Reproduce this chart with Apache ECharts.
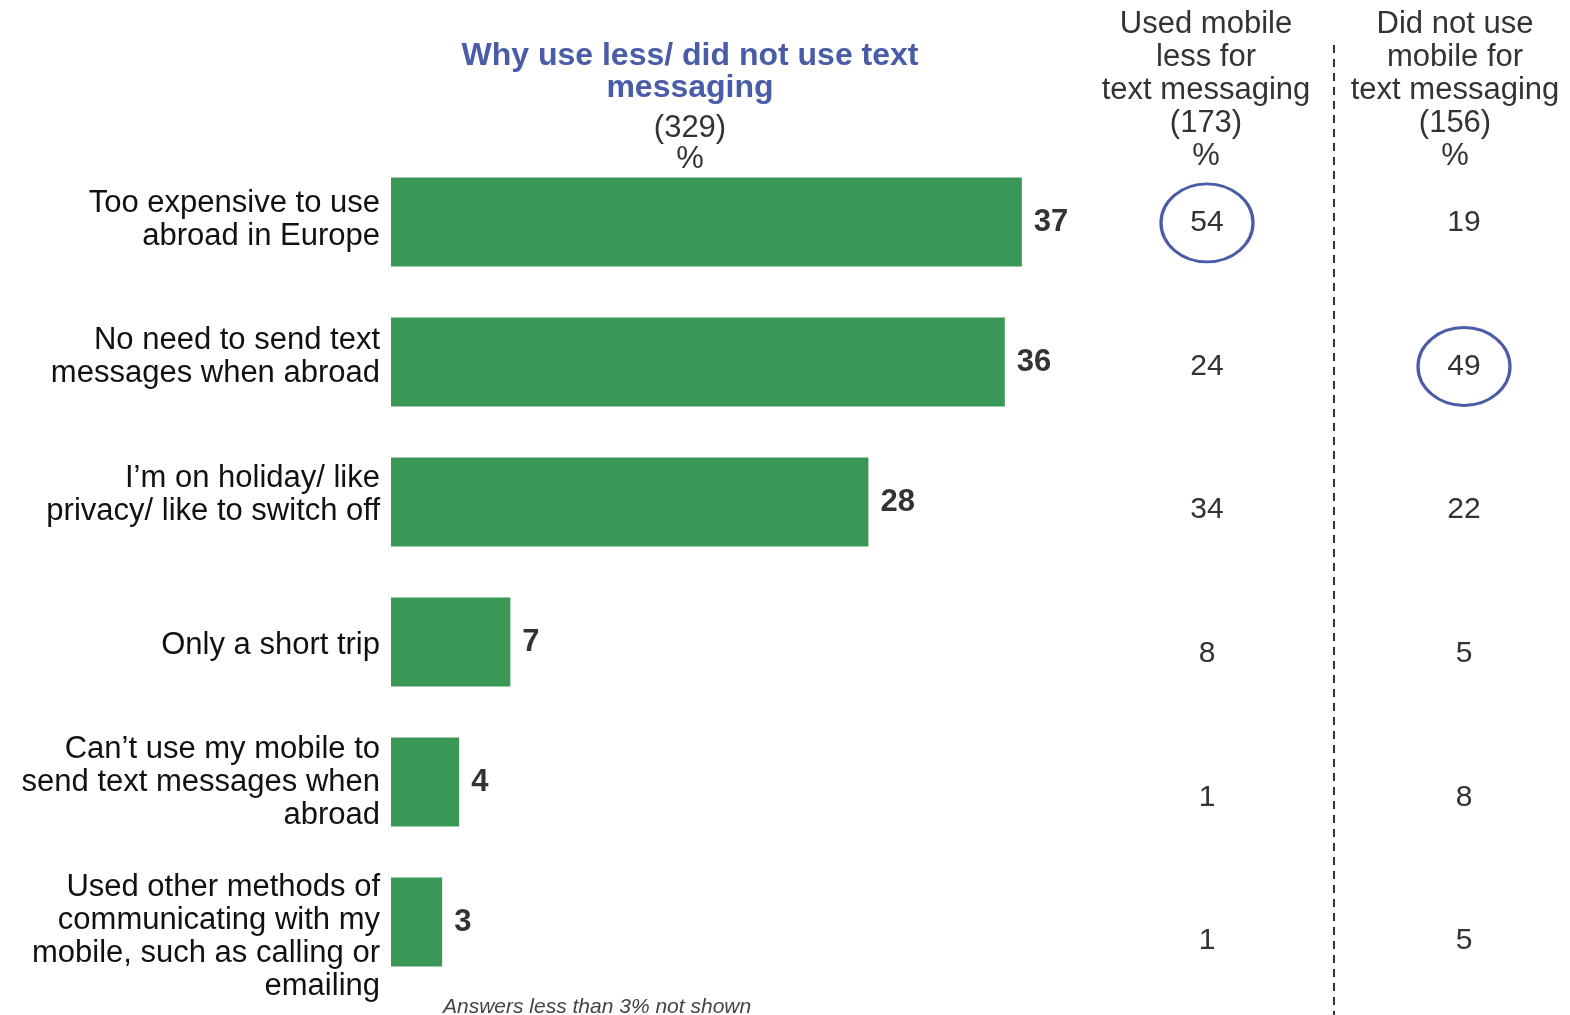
<!DOCTYPE html>
<html>
<head>
<meta charset="utf-8">
<style>
  html, body { margin: 0; padding: 0; background: #ffffff; }
  #chart { width: 1570px; height: 1015px; }
</style>
<script src="https://cdn.jsdelivr.net/npm/echarts@6/dist/echarts.min.js"></script>
</head>
<body>
<div id="chart"></div>
<script>
// Reasons for using mobile less / not at all for text messaging abroad
const reasons = [
  'Too expensive to use\nabroad in Europe',
  'No need to send text\nmessages when abroad',
  'I\u2019m on holiday/ like\nprivacy/ like to switch off',
  'Only a short trip',
  'Can\u2019t use my mobile to\nsend text messages when\nabroad',
  'Used other methods of\ncommunicating with my\nmobile, such as calling or\nemailing'
];
const totalPct = [37, 36, 28, 7, 4, 3];          // all (329)
const usedLessPct = [54, 24, 34, 8, 1, 1];       // used mobile less (173)
const didNotUsePct = [19, 49, 22, 5, 8, 5];      // did not use mobile (156)
// highlighted cells: [subgroup index, reason index]
const highlights = [[0, 0], [1, 1]];

const FONT = '"Liberation Sans", Arial, sans-serif';
const TXT = '#333333';
const BLUE = '#4A5BA8';
const GREEN = '#3B9755';

// spacer lines that nudge individual wrapped labels up (after) or down (before)
const spacerBefore = [0, 0, 0, 6, 0, 30];
const spacerAfter = [4, 11, 14, 0, 0, 0];
const spacerRich = {};
[...new Set(spacerBefore.concat(spacerAfter))].forEach(h => {
  spacerRich['s' + h] = { fontSize: 1, lineHeight: h };
});
function formatReason(value, idx) {
  let t = value;
  if (spacerBefore[idx]) t = '{s' + spacerBefore[idx] + '| }\n' + t;
  if (spacerAfter[idx]) t = t + '\n{s' + spacerAfter[idx] + '| }';
  return t;
}

const cellData = [];
usedLessPct.forEach((v, i) => cellData.push([0, i, v]));
didNotUsePct.forEach((v, i) => cellData.push([1, i, v]));

const chart = echarts.init(document.getElementById('chart'));
chart.setOption({
  backgroundColor: '#ffffff',
  animation: false,
  grid: [
    { left: 391, top: 152, width: 682, height: 840 },
    { left: 1207, top: 151, width: 257, height: 862 }
  ],
  xAxis: [
    { gridIndex: 0, type: 'value', min: 0, max: 40, show: false },
    { gridIndex: 1, type: 'value', min: 0, max: 1, show: false }
  ],
  yAxis: [
    {
      gridIndex: 0, type: 'category', data: reasons, inverse: true,
      axisLine: { show: false }, axisTick: { show: false }, splitLine: { show: false },
      axisLabel: {
        margin: 11, fontFamily: FONT, fontSize: 31, lineHeight: 33, color: '#111111', align: 'right',
        formatter: formatReason, rich: spacerRich
      }
    },
    { gridIndex: 1, type: 'category', data: reasons, inverse: true, show: false }
  ],
  series: [
    {
      type: 'bar', xAxisIndex: 0, yAxisIndex: 0, data: totalPct,
      barWidth: 89, itemStyle: { color: GREEN },
      label: {
        show: true, position: 'right', distance: 12,
        fontFamily: FONT, fontSize: 31, fontWeight: 'bold', color: TXT
      }
    },
    {
      type: 'scatter', xAxisIndex: 1, yAxisIndex: 1, data: cellData,
      symbolSize: 0, itemStyle: { opacity: 1 },
      label: {
        show: true, position: 'inside', formatter: p => p.value[2],
        fontFamily: FONT, fontSize: 30, color: TXT
      }
    },
    {
      type: 'scatter', xAxisIndex: 1, yAxisIndex: 1, data: highlights,
      symbol: 'circle', symbolSize: [92, 78], silent: true,
      itemStyle: { color: 'rgba(0,0,0,0)', borderColor: BLUE, borderWidth: 3, opacity: 1 }
    }
  ],
  graphic: [
    {
      type: 'text', x: 690, y: 40,
      style: {
        text: 'Why use less/ did not use text\nmessaging',
        textAlign: 'center', fill: BLUE, font: 'bold 32px ' + FONT, lineHeight: 32
      }
    },
    {
      type: 'text', x: 690, y: 113,
      style: {
        text: '(329)\n%', textAlign: 'center', fill: TXT, font: '31px ' + FONT, lineHeight: 31
      }
    },
    {
      type: 'text', x: 1206, y: 8,
      style: {
        text: 'Used mobile\nless for\ntext messaging\n(173)\n%', textAlign: 'center',
        fill: TXT, font: '31px ' + FONT, lineHeight: 33
      }
    },
    {
      type: 'text', x: 1455, y: 8,
      style: {
        text: 'Did not use\nmobile for\ntext messaging\n(156)\n%', textAlign: 'center',
        fill: TXT, font: '31px ' + FONT, lineHeight: 33
      }
    },
    {
      type: 'line', shape: { x1: 1334, y1: 45, x2: 1334, y2: 1015 },
      style: { stroke: TXT, lineWidth: 2, lineDash: [8, 6] }
    },
    {
      type: 'text', x: 443, y: 997,
      style: {
        text: 'Answers less than 3% not shown', fill: '#444444',
        font: 'italic 21px ' + FONT
      }
    }
  ]
});
</script>
</body>
</html>
